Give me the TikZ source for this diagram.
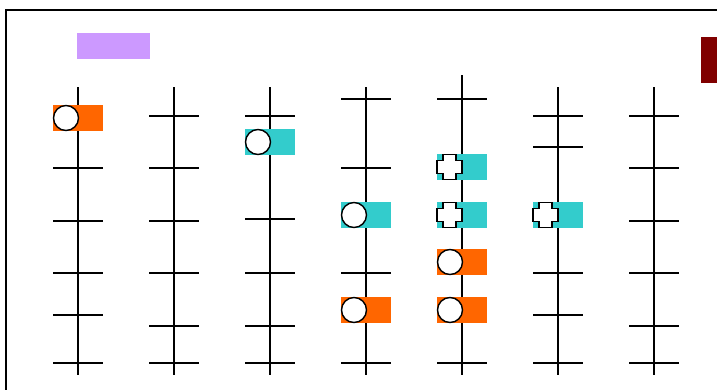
\documentclass[tikz,border=0pt]{standalone}
\usetikzlibrary{positioning}

\definecolor{hitorange}{HTML}{FF6600}
\definecolor{hitcyan}{HTML}{33CCCC}
\definecolor{keylilac}{HTML}{CC99FF}
\definecolor{keymaroon}{HTML}{800000}

\tikzset{
  stem/.style={line width=1.6pt},
  tickmark/.style={line width=1.6pt},
  hitbox/.style={minimum width=50pt, minimum height=26pt, inner sep=0pt},
  obox/.style={hitbox, fill=hitorange},
  cbox/.style={hitbox, fill=hitcyan},
  ring/.style={circle, draw, fill=white, line width=1.4pt, minimum size=25pt, inner sep=0pt, anchor=west},
  plusmark/.pic={
    \draw[line width=1.4pt, fill=white] (-6.5,-12.5) -- (6.5,-12.5) -- (6.5,-6.5) -- (12.5,-6.5)
      -- (12.5,6.5) -- (6.5,6.5) -- (6.5,12.5) -- (-6.5,12.5) -- (-6.5,6.5) -- (-12.5,6.5)
      -- (-12.5,-6.5) -- (-6.5,-6.5) -- cycle;
  }
}

\newcommand\tickrow[2]{\foreach \ty in {#2}{\draw[tickmark] (#1-25,\ty) -- (#1+25,\ty);}}

\begin{document}
\begin{tikzpicture}[x=1pt, y=-1pt]
\useasboundingbox (0,0) rectangle (717,389);
\clip (0,0) rectangle (717,389);
\draw[line width=1.6pt] (6,10) rectangle (760,420);

% key
\node[fill=keylilac, minimum width=73pt, minimum height=26pt, inner sep=0pt] (key1) at (113.5,46) {};
\node[fill=keymaroon, minimum width=30pt, minimum height=46pt, inner sep=0pt] (key2) at (716,60) {};

% stems
\coordinate (s1) at (78,87);
\coordinate[right=96pt of s1] (s2);
\coordinate[right=96pt of s2] (s3);
\coordinate[right=96pt of s3] (s4);
\coordinate[right=96pt of s4] (s5);
\coordinate[right=96pt of s5] (s6);
\coordinate[right=96pt of s6] (s7);
\foreach \i in {1,...,7}{\draw[stem] (s\i) -- ++(0,288);}
\draw[stem] (s5) -- ++(0,-12);

% ticks
\tickrow{78}{168,221,273,315,363}
\tickrow{174}{116,168,221,273,326,363}
\tickrow{270}{116,219,273,326,363}
\tickrow{366}{99,168,273,363}
\tickrow{462}{99,363}
\tickrow{558}{116,147,273,315,363}
\tickrow{654}{116,168,221,273,326,363}

% hits
\node[obox] (h1) at (78,118) {};
\node[cbox] (h3) at (270,142) {};
\node[cbox] (h4a) at (366,215) {};
\node[obox] (h4b) at (366,310) {};
\node[cbox] (h5a) at (462,167) {};
\node[cbox] (h5b) at (462,215) {};
\node[obox] (h5c) at (462,262) {};
\node[obox] (h5d) at (462,310) {};
\node[cbox] (h6) at (558,215) {};

\node[ring] (r1) at (h1.west) {};
\node[ring] (r3) at (h3.west) {};
\node[ring] (r4a) at (h4a.west) {};
\node[ring] (r4b) at (h4b.west) {};
\node[ring] (r5c) at (h5c.west) {};
\node[ring] (r5d) at (h5d.west) {};
\pic at ([xshift=12.5pt]h5a.west) {plusmark};
\pic at ([xshift=12.5pt]h5b.west) {plusmark};
\pic at ([xshift=12.5pt]h6.west) {plusmark};
\end{tikzpicture}
\end{document}
